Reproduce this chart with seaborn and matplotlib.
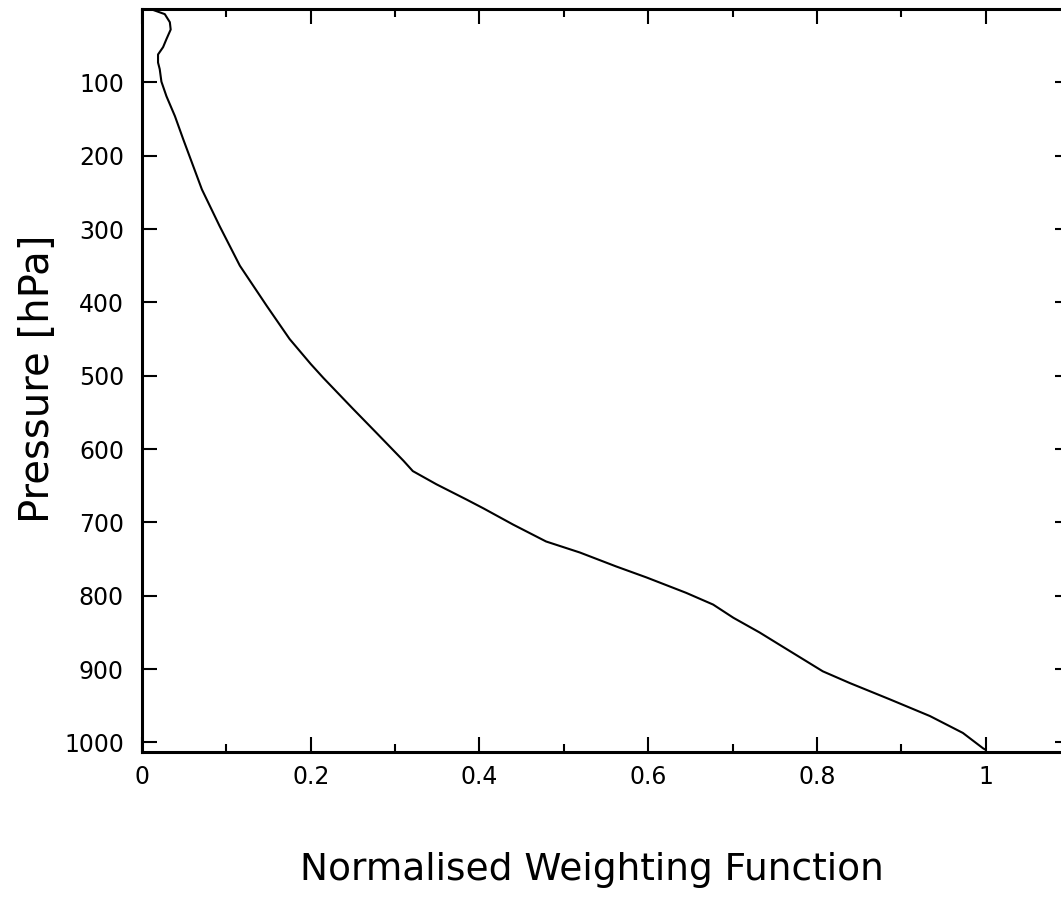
import pandas as pd
import seaborn as sns
import matplotlib.pyplot as plt
from matplotlib.ticker import MultipleLocator

# normalised weighting function vs pressure
weight = [0.010, 0.027, 0.033, 0.034, 0.029, 0.025, 0.019, 0.019, 0.021, 0.023,
          0.029, 0.039, 0.049, 0.071, 0.092, 0.116, 0.148, 0.175, 0.200, 0.215,
          0.235, 0.250, 0.278, 0.310, 0.321, 0.349, 0.385, 0.405, 0.440, 0.479,
          0.519, 0.562, 0.598, 0.645, 0.677, 0.701, 0.732, 0.756, 0.807, 0.839,
          0.886, 0.934, 0.973, 0.997, 1.000]
pressure = [0, 7, 18, 28, 41, 52, 62, 73, 82, 99,
            119, 146, 178, 246, 296, 350, 405, 450, 484, 503,
            527, 545, 578, 616, 630, 648, 669, 681, 703, 726,
            741, 760, 775, 796, 812, 830, 850, 867, 903, 919,
            941, 964, 987, 1008, 1010]

df = pd.DataFrame({"weight": weight, "pressure": pressure})

sns.set_style("ticks")
plt.rcParams["font.family"] = ["DejaVu Sans"]
plt.rcParams["text.color"] = "black"
plt.rcParams["axes.labelcolor"] = "black"
plt.rcParams["xtick.color"] = "black"
plt.rcParams["ytick.color"] = "black"

fig = plt.figure(figsize=(10.61, 9), dpi=100)
ax = fig.add_axes([142 / 1061, 148 / 900, 928 / 1061, 743 / 900])

sns.lineplot(data=df, x="weight", y="pressure", sort=False, estimator=None,
             color="black", linewidth=1.5, ax=ax)

ax.set_xlim(0, 1.1)
ax.set_ylim(1013, 0)
ax.xaxis.set_minor_locator(MultipleLocator(0.1))
ax.set_xticks([0, 0.2, 0.4, 0.6, 0.8, 1.0])
ax.set_xticklabels(["0", "0.2", "0.4", "0.6", "0.8", "1"])
ax.set_yticks(range(100, 1001, 100))

ax.tick_params(which="both", direction="in", top=True, right=True,
               color="black", width=1.5)
ax.tick_params(which="major", length=11)
ax.tick_params(which="minor", length=6)
ax.tick_params(axis="x", labelsize=17, pad=9, labelcolor="black")
ax.tick_params(axis="y", labelsize=17, pad=13, labelcolor="black")

for s in ax.spines.values():
    s.set_linewidth(2.2)
    s.set_color("black")

ax.set_xlabel("Normalised Weighting Function", fontsize=27, color="black")
ax.set_ylabel("Pressure [hPa]", fontsize=29, color="black")
ax.xaxis.set_label_coords(0.485, -0.159)
ax.xaxis.label.set_va("center")
ax.yaxis.set_label_coords(-0.112, 0.503)
ax.yaxis.label.set_va("center")

fig.savefig("out.png", dpi=100)
